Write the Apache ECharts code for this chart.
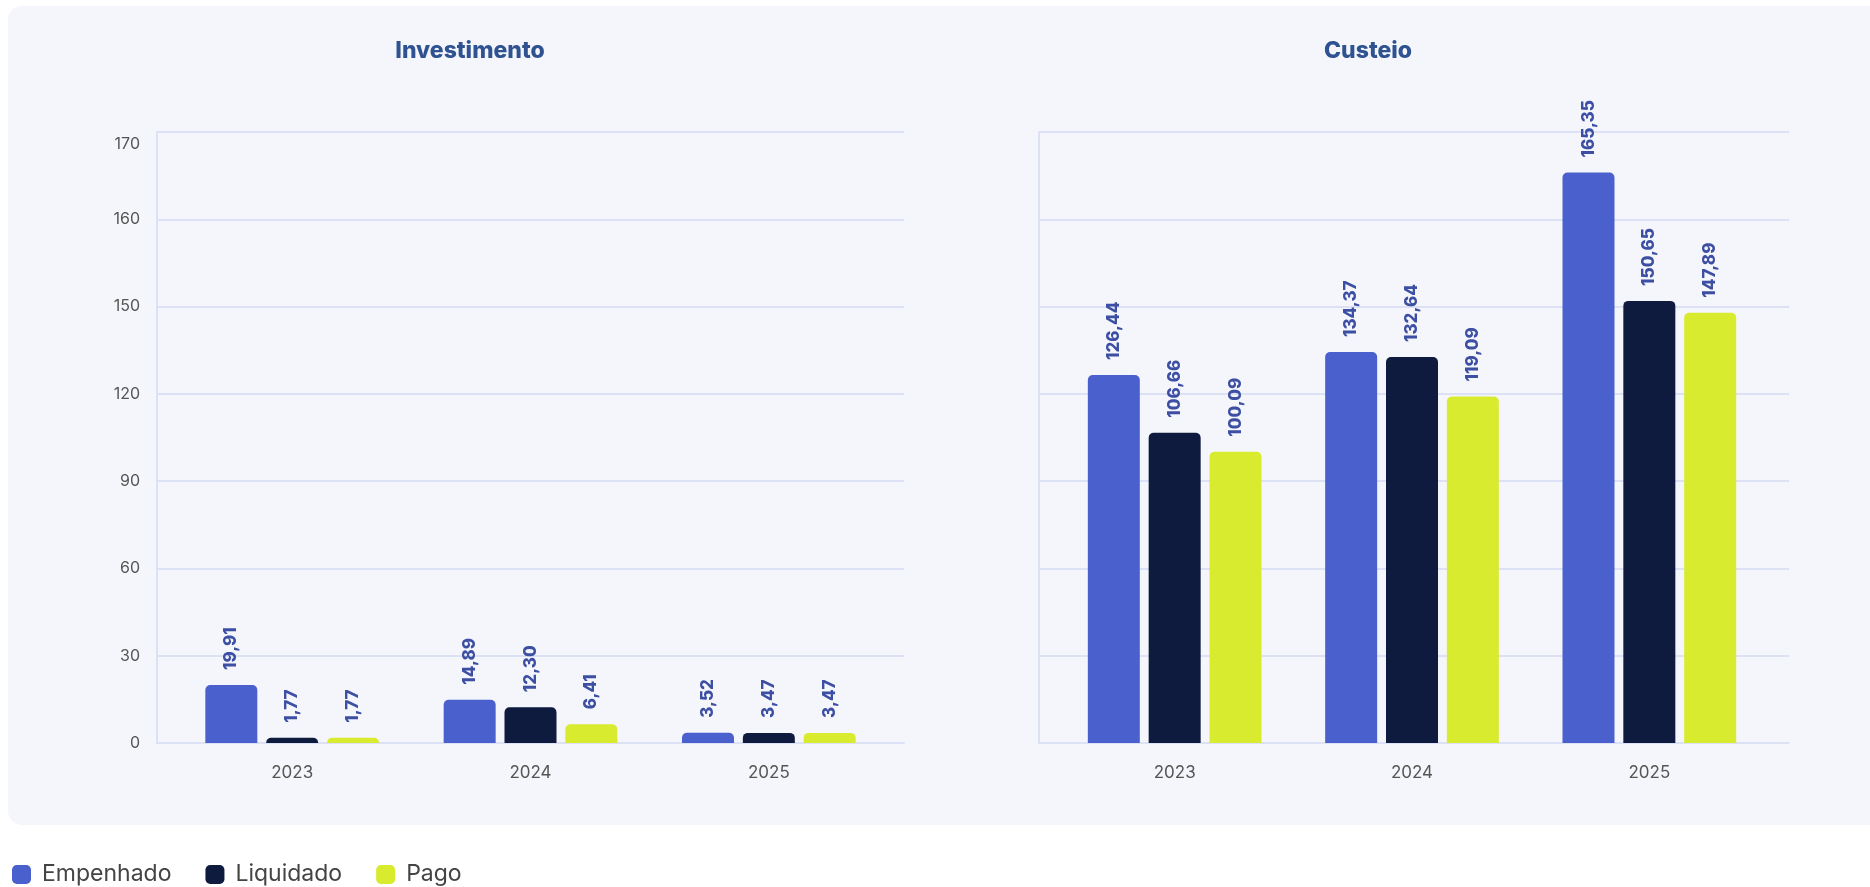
<!DOCTYPE html>
<html>
<head>
<meta charset="utf-8">
<title>Investimento / Custeio</title>
<script src="https://cdn.jsdelivr.net/npm/echarts@6/dist/echarts.min.js"></script>
<style>
  html, body { margin: 0; padding: 0; background: #fff; }
  #chart { width: 1870px; height: 887px; }
</style>
</head>
<body>
<div id="chart"></div>
<script>
// dados
const years = ['2023', '2024', '2025']
const tickLabels = [0, 30, 60, 90, 120, 150, 160, 170]

const invEmpenhado = [19.91, 14.89, 3.52]
const invLiquidado = [1.77, 12.30, 3.47]
const invPago = [1.77, 6.41, 3.47]

const custEmpenhado = [126.44, 134.37, 165.35]
const custLiquidado = [106.66, 132.64, 150.65]
const custPago = [100.09, 119.09, 147.89]

const colors = ['#4a60cc', '#0f1b3e', '#d8eb2e']
const gridColor = '#dde1f5'
const font = 'Inter, "Noto Sans", sans-serif'

// eixo com escala por trechos (ticks igualmente espaçados)
function toAxis(v) {
  for (let i = 0; i < tickLabels.length - 1; i++) {
    if (v <= tickLabels[i + 1]) {
      return i + (v - tickLabels[i]) / (tickLabels[i + 1] - tickLabels[i])
    }
  }
  return tickLabels.length - 1
}

function fmt(v) {
  return v.toFixed(2).replace('.', ',')
}

function barSeries(name, values, axisIndex, color) {
  return {
    name: name,
    type: 'bar',
    xAxisIndex: axisIndex,
    yAxisIndex: axisIndex,
    barWidth: 52,
    barGap: '17%',
    data: values.map(v => ({ value: toAxis(v), orig: v })),
    itemStyle: { color: color, borderRadius: [5, 5, 0, 0] },
    label: {
      show: true,
      position: 'top',
      rotate: 90,
      align: 'left',
      verticalAlign: 'middle',
      distance: 15,
      color: '#3c4fa3',
      fontFamily: font,
      fontWeight: 800,
      fontSize: 17,
      formatter: p => fmt(p.data.orig)
    }
  }
}

const chart = echarts.init(document.getElementById('chart'))

const frameY = { min: 0, max: 7, interval: 1 }

chart.setOption({
  backgroundColor: '#fff',
  animation: false,
  graphic: [{
    type: 'rect',
    z: -10,
    silent: true,
    shape: { x: 8, y: 6, width: 1880, height: 819, r: 14 },
    style: { fill: '#f5f6fb' }
  }],
  title: [
    { text: 'Investimento', left: 465, top: 35, textAlign: 'center',
      textStyle: { fontFamily: font, fontSize: 23, fontWeight: 800, color: '#2f5391' } },
    { text: 'Custeio', left: 1363, top: 35, textAlign: 'center',
      textStyle: { fontFamily: font, fontSize: 23, fontWeight: 800, color: '#2f5391' } }
  ],
  legend: {
    left: 7,
    top: 858,
    itemWidth: 19,
    itemHeight: 19,
    itemGap: 34,
    icon: 'roundRect',
    data: ['Empenhado', 'Liquidado', 'Pago'],
    textStyle: { fontFamily: font, fontSize: 23, color: '#444', padding: [0, 0, 0, 6] }
  },
  grid: [
    // moldura (linhas) e área das barras
    { left: 157, right: 966, top: 132, bottom: 144 },
    { left: 173, right: 982, top: 132, bottom: 144 },
    { left: 1039, right: 81, top: 132, bottom: 144 },
    { left: 1056, right: 102, top: 132, bottom: 144 }
  ],
  xAxis: [
    { type: 'category', gridIndex: 0, data: years,
      axisLine: { lineStyle: { color: gridColor, width: 2 } },
      axisTick: { show: false }, axisLabel: { show: false } },
    { type: 'category', gridIndex: 1, data: years,
      axisLine: { show: false }, axisTick: { show: false },
      axisLabel: { margin: 21, fontFamily: font, fontSize: 17, color: '#555' } },
    { type: 'category', gridIndex: 2, data: years,
      axisLine: { lineStyle: { color: gridColor, width: 2 } },
      axisTick: { show: false }, axisLabel: { show: false } },
    { type: 'category', gridIndex: 3, data: years,
      axisLine: { show: false }, axisTick: { show: false },
      axisLabel: { margin: 21, fontFamily: font, fontSize: 17, color: '#555' } }
  ],
  yAxis: [
    Object.assign({ type: 'value', gridIndex: 0,
      axisLine: { show: true, lineStyle: { color: gridColor, width: 2 } },
      axisTick: { show: false },
      splitLine: { lineStyle: { color: gridColor, width: 2 } },
      axisLabel: {
        margin: 17, fontFamily: font, fontSize: 16, color: '#555',
        formatter: v => {
          const t = tickLabels[Math.round(v)]
          return Math.round(v) === tickLabels.length - 1 ? '{top|' + t + '}' : String(t)
        },
        rich: { top: { fontFamily: font, fontSize: 16, color: '#555', padding: [24, 0, 0, 0] } }
      } }, frameY),
    Object.assign({ type: 'value', gridIndex: 1, show: false }, frameY),
    Object.assign({ type: 'value', gridIndex: 2,
      axisLine: { show: true, lineStyle: { color: gridColor, width: 2 } },
      axisTick: { show: false },
      splitLine: { lineStyle: { color: gridColor, width: 2 } },
      axisLabel: { show: false } }, frameY),
    Object.assign({ type: 'value', gridIndex: 3, show: false }, frameY)
  ],
  color: colors,
  series: [
    barSeries('Empenhado', invEmpenhado, 1, colors[0]),
    barSeries('Liquidado', invLiquidado, 1, colors[1]),
    barSeries('Pago', invPago, 1, colors[2]),
    barSeries('Empenhado', custEmpenhado, 3, colors[0]),
    barSeries('Liquidado', custLiquidado, 3, colors[1]),
    barSeries('Pago', custPago, 3, colors[2])
  ]
})
</script>
</body>
</html>
